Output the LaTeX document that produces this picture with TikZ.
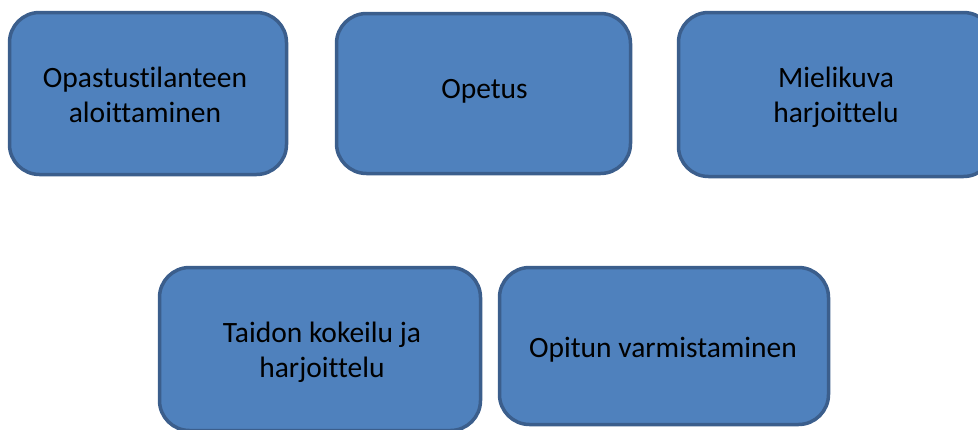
\documentclass[tikz,border=0pt]{standalone}
\usepackage{fontspec}
\setmainfont[Ligatures=NoCommon]{Carlito}
\definecolor{boxfill}{HTML}{4F81BD}
\definecolor{boxline}{HTML}{3B5E8C}
\tikzset{
  stagebox/.style={rectangle, rounded corners=30pt, fill=boxfill, draw=boxline,
    line width=3.5pt, inner sep=0pt},
  stagetext/.style={align=center, inner sep=0pt, anchor=base,
    font=\fontsize{29.5}{35}\selectfont, text=black}
}
\begin{document}
\begin{tikzpicture}[x=1pt,y=-1pt]
\useasboundingbox (0,0) rectangle (978,429);
\clip (0,0) rectangle (978,429);
\node[stagebox, minimum width=277pt, minimum height=162pt] (a) at (148,93.5) {};
\node[stagebox, minimum width=294pt, minimum height=160pt] (b) at (483.5,93.5) {};
\node[stagebox, minimum width=315pt, minimum height=164pt] (c) at (836,94.5) {};
\node[stagebox, minimum width=321pt, minimum height=163pt] (d) at (320,349) {};
\node[stagebox, minimum width=329pt, minimum height=157pt] (e) at (664,346) {};
\node[stagetext] (at) at (145,122) {Opastustilanteen\\aloittaminen};
\node[stagetext] (bt) at (484.5,98) {Opetus};
\node[stagetext] (ct) at (836,122) {Mielikuva\\harjoittelu};
\node[stagetext] (dt) at (322,377) {Taidon kokeilu ja\\harjoittelu};
\node[stagetext] (et) at (663,357) {Opitun varmistaminen};
\end{tikzpicture}
\end{document}
